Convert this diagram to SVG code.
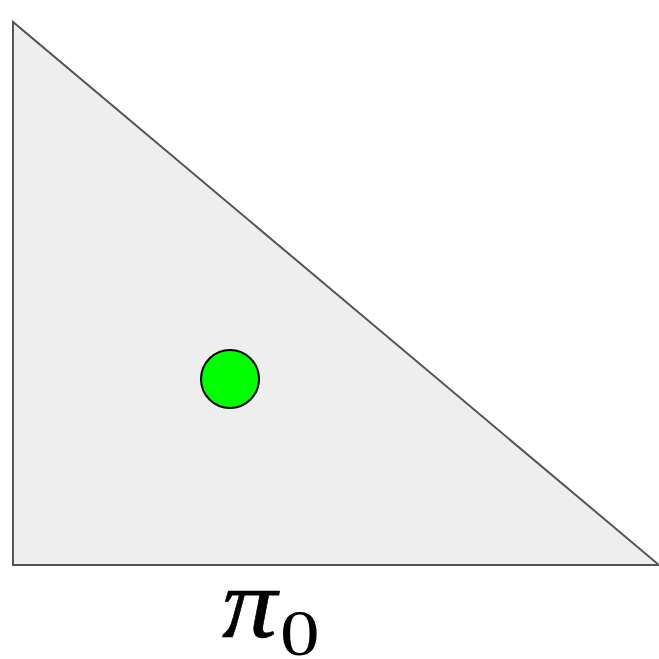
<svg xmlns="http://www.w3.org/2000/svg" width="659" height="659" viewBox="0 0 659 659">
<style>
.tri{fill:#eeeeee;stroke:#555555;stroke-width:2}
.pt{fill:#00ff00;stroke:#000000;stroke-width:2}
.lbl{font-family:"Liberation Serif",serif;fill:#000000}
</style>
<rect width="659" height="659" fill="#ffffff"/>
<g id="triangle"><polygon class="tri" points="13,22 13,565 659,565"/></g>
<g id="point"><circle class="pt" cx="230" cy="379" r="29"/></g>
<g id="label">
<text class="lbl" transform="translate(222,637) scale(1.1,1)" font-size="100" font-style="italic" stroke="#000" stroke-width="0.6">π</text>
<text class="lbl" transform="translate(280,655) scale(1.22,1)" font-size="65">0</text>
</g>
</svg>
